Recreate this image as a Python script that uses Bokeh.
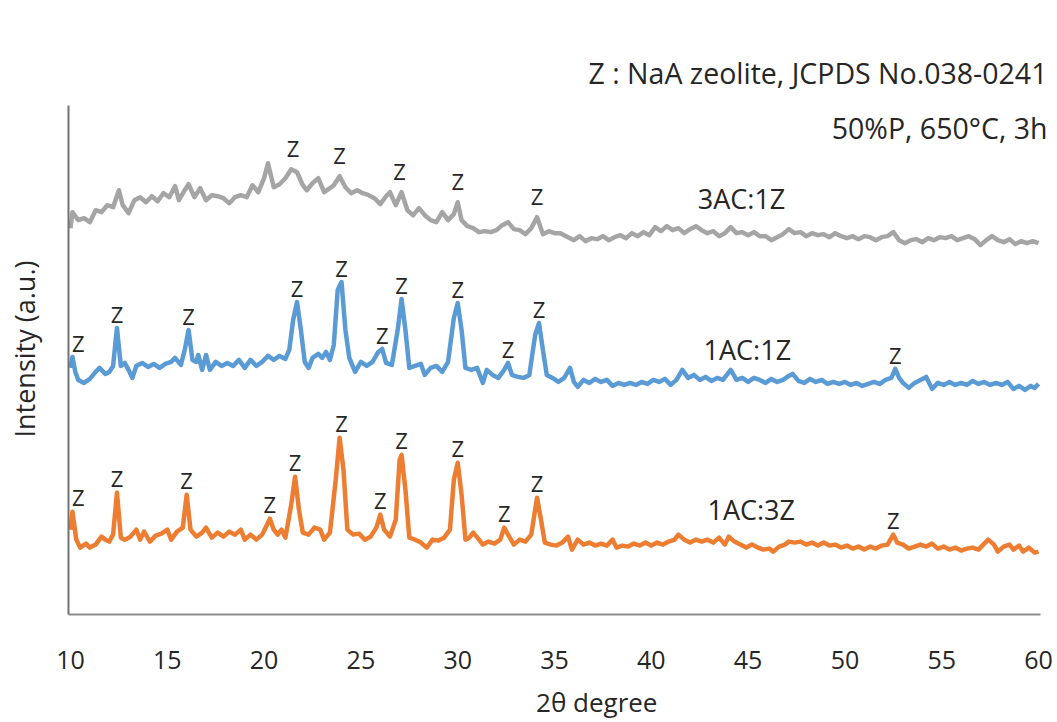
from bokeh.plotting import figure
from bokeh.models import ColumnDataSource, Range1d, FixedTicker, Label
from bokeh.core.properties import value
from bokeh.embed import file_html
from bokeh.resources import INLINE

# XRD patterns (2-theta in degrees, stacked intensity in a.u.)
tt_3ac1z = [10.0, 10.1, 10.4, 10.7, 11.0, 11.3, 11.6, 11.9, 12.2, 12.5, 12.7, 13.0, 13.3, 13.6, 13.9,
            14.2, 14.5, 14.8, 15.1, 15.4, 15.6, 15.9, 16.1, 16.4, 16.7, 17.0, 17.3, 17.6, 17.9, 18.2,
            18.5, 18.8, 19.1, 19.4, 19.7, 20.0, 20.2, 20.5, 20.8, 21.1, 21.4, 21.7, 22.0, 22.2, 22.5,
            22.8, 23.1, 23.4, 23.6, 23.9, 24.2, 24.5, 24.8, 25.1, 25.4, 25.7, 26.0, 26.3, 26.5, 26.8,
            27.1, 27.4, 27.7, 28.0, 28.3, 28.6, 28.9, 29.2, 29.5, 29.8, 30.0, 30.2, 30.5, 30.8, 31.1,
            31.4, 31.7, 32.0, 32.3, 32.6, 32.9, 33.2, 33.5, 33.8, 34.1, 34.4, 34.7, 35.0, 35.3, 35.6,
            36.0, 36.3, 36.6, 36.9, 37.2, 37.5, 37.8, 38.1, 38.4, 38.7, 39.0, 39.3, 39.6, 39.9, 40.2,
            40.5, 40.8, 41.1, 41.4, 41.7, 42.0, 42.3, 42.6, 42.9, 43.2, 43.5, 43.8, 44.1, 44.4, 44.7,
            45.0, 45.3, 45.6, 45.9, 46.2, 46.5, 46.8, 47.1, 47.4, 47.7, 48.0, 48.3, 48.6, 48.9, 49.2,
            49.5, 49.8, 50.1, 50.4, 50.7, 51.0, 51.3, 51.6, 51.9, 52.2, 52.5, 52.8, 53.1, 53.4, 53.7,
            54.0, 54.3, 54.6, 54.9, 55.2, 55.5, 55.8, 56.1, 56.4, 56.7, 57.0, 57.3, 57.6, 57.9, 58.2,
            58.5, 58.8, 59.1, 59.4, 59.7, 60.0]
int_3ac1z = [387, 403, 395, 397, 393, 405, 403, 410, 408, 425, 410, 402, 415, 418, 413,
             419, 414, 422, 418, 429, 415, 425, 431, 418, 427, 415, 420, 419, 417, 412,
             418, 420, 418, 430, 423, 437, 452, 428, 431, 437, 446, 443, 430, 425, 432,
             437, 423, 427, 430, 439, 428, 422, 425, 422, 420, 417, 411, 419, 423, 410,
             423, 405, 400, 407, 400, 395, 393, 403, 395, 401, 413, 395, 389, 387, 383,
             384, 383, 385, 390, 393, 386, 385, 381, 387, 398, 381, 384, 382, 382, 379,
             375, 379, 374, 377, 376, 379, 375, 378, 380, 377, 382, 379, 383, 380, 388,
             384, 389, 385, 387, 382, 386, 389, 385, 382, 384, 379, 382, 388, 382, 383,
             380, 383, 379, 379, 375, 378, 381, 386, 382, 383, 379, 382, 380, 381, 378,
             382, 379, 377, 379, 376, 379, 378, 375, 378, 379, 383, 375, 372, 375, 376,
             373, 377, 375, 378, 377, 379, 375, 377, 379, 376, 370, 375, 379, 375, 373,
             376, 371, 374, 372, 374, 372]

tt_1ac1z = [10.0, 10.1, 10.25, 10.4, 10.7, 11.0, 11.3, 11.5, 11.8, 12.0, 12.2, 12.4, 12.6, 12.8, 13.0,
            13.2, 13.4, 13.7, 14.0, 14.3, 14.6, 14.9, 15.2, 15.4, 15.7, 15.9, 16.1, 16.3, 16.5, 16.6,
            16.8, 17.0, 17.2, 17.5, 17.8, 18.1, 18.4, 18.7, 19.0, 19.3, 19.6, 19.9, 20.2, 20.5, 20.8,
            21.1, 21.3, 21.5, 21.7, 21.9, 22.1, 22.3, 22.5, 22.8, 23.0, 23.2, 23.4, 23.6, 23.8, 24.0,
            24.2, 24.4, 24.7, 25.0, 25.3, 25.6, 25.9, 26.1, 26.3, 26.6, 26.9, 27.1, 27.3, 27.5, 27.8,
            28.1, 28.3, 28.6, 28.9, 29.2, 29.5, 29.8, 30.0, 30.2, 30.4, 30.7, 31.0, 31.3, 31.5, 31.8,
            32.1, 32.4, 32.6, 32.8, 33.1, 33.4, 33.7, 34.0, 34.2, 34.4, 34.6, 34.9, 35.2, 35.5, 35.8,
            36.0, 36.2, 36.5, 36.8, 37.1, 37.4, 37.7, 38.0, 38.3, 38.6, 38.9, 39.2, 39.5, 39.8, 40.1,
            40.4, 40.7, 41.0, 41.3, 41.6, 41.9, 42.2, 42.5, 42.8, 43.1, 43.4, 43.7, 44.1, 44.4, 44.7,
            45.0, 45.3, 45.6, 45.9, 46.2, 46.5, 46.8, 47.1, 47.3, 47.6, 47.9, 48.2, 48.5, 48.8, 49.1,
            49.4, 49.7, 50.0, 50.3, 50.6, 50.9, 51.2, 51.5, 51.8, 52.1, 52.4, 52.6, 52.8, 53.0, 53.3,
            53.6, 53.9, 54.2, 54.5, 54.8, 55.1, 55.4, 55.7, 56.0, 56.3, 56.6, 56.9, 57.2, 57.5, 57.8,
            58.1, 58.4, 58.7, 59.0, 59.3, 59.6, 59.8, 60.0]
int_1ac1z = [247, 258, 243, 235, 232, 236, 243, 247, 241, 243, 249, 287, 249, 252, 245,
             237, 249, 252, 248, 251, 247, 251, 253, 257, 250, 265, 285, 255, 253, 260,
             245, 260, 245, 253, 249, 252, 249, 255, 247, 255, 249, 253, 259, 255, 259,
             256, 265, 295, 313, 285, 253, 247, 257, 261, 257, 263, 255, 270, 325, 333,
             285, 257, 243, 253, 249, 253, 263, 266, 252, 250, 285, 316, 285, 247, 249,
             251, 240, 247, 249, 243, 253, 297, 312, 285, 247, 245, 247, 232, 245, 240,
             237, 245, 252, 240, 238, 237, 240, 280, 292, 265, 240, 237, 233, 237, 247,
             233, 228, 235, 232, 236, 233, 235, 229, 232, 230, 232, 230, 233, 231, 235,
             233, 236, 230, 235, 245, 237, 240, 235, 238, 234, 237, 235, 245, 235, 237,
             233, 237, 235, 232, 236, 233, 235, 239, 241, 234, 232, 236, 233, 235, 231,
             233, 231, 233, 230, 232, 229, 231, 233, 231, 235, 237, 246, 237, 232, 227,
             232, 235, 238, 226, 232, 230, 233, 230, 232, 230, 234, 231, 233, 230, 232,
             230, 233, 226, 229, 225, 229, 227, 231]

tt_1ac3z = [10.0, 10.1, 10.3, 10.5, 10.8, 11.0, 11.3, 11.6, 11.8, 12.0, 12.2, 12.4, 12.6, 12.8, 13.1,
            13.4, 13.6, 13.8, 14.1, 14.4, 14.7, 15.0, 15.2, 15.5, 15.8, 16.0, 16.2, 16.5, 16.8, 17.0,
            17.3, 17.6, 17.9, 18.2, 18.5, 18.8, 19.0, 19.3, 19.6, 19.9, 20.1, 20.3, 20.5, 20.7, 20.9,
            21.1, 21.4, 21.6, 21.8, 22.0, 22.3, 22.6, 22.9, 23.1, 23.4, 23.7, 23.9, 24.1, 24.3, 24.6,
            24.9, 25.2, 25.5, 25.8, 26.0, 26.2, 26.5, 26.8, 27.0, 27.1, 27.3, 27.5, 27.8, 28.1, 28.4,
            28.7, 29.0, 29.3, 29.6, 29.8, 30.0, 30.2, 30.4, 30.6, 30.8, 31.1, 31.3, 31.6, 31.9, 32.2,
            32.4, 32.6, 32.9, 33.2, 33.5, 33.8, 34.0, 34.1, 34.3, 34.5, 34.8, 35.1, 35.4, 35.7, 35.9,
            36.2, 36.5, 36.8, 37.1, 37.4, 37.7, 38.0, 38.2, 38.5, 38.8, 39.1, 39.4, 39.7, 40.0, 40.3,
            40.6, 40.9, 41.2, 41.4, 41.7, 42.0, 42.3, 42.6, 42.9, 43.2, 43.5, 43.8, 44.0, 44.3, 44.6,
            44.9, 45.2, 45.5, 45.8, 46.1, 46.3, 46.6, 46.9, 47.1, 47.4, 47.7, 48.0, 48.3, 48.6, 48.9,
            49.2, 49.5, 49.8, 50.1, 50.4, 50.7, 51.0, 51.3, 51.6, 51.9, 52.2, 52.5, 52.7, 53.0, 53.3,
            53.6, 53.9, 54.2, 54.5, 54.8, 55.1, 55.4, 55.7, 56.0, 56.3, 56.6, 56.9, 57.1, 57.4, 57.7,
            57.9, 58.2, 58.5, 58.7, 59.0, 59.2, 59.5, 59.8, 60.0]
int_1ac3z = [85, 103, 75, 67, 71, 67, 70, 78, 75, 73, 80, 122, 77, 75, 78,
             85, 75, 83, 73, 79, 81, 85, 75, 83, 87, 120, 85, 78, 82, 87,
             77, 82, 78, 83, 80, 85, 75, 80, 75, 80, 88, 96, 85, 80, 85,
             77, 110, 138, 105, 82, 80, 87, 85, 75, 82, 135, 177, 145, 85, 80,
             81, 75, 78, 87, 100, 85, 78, 95, 155, 160, 125, 77, 75, 72, 67,
             75, 74, 77, 85, 135, 152, 120, 75, 77, 82, 75, 70, 73, 71, 75,
             87, 80, 70, 75, 73, 80, 105, 117, 95, 72, 70, 69, 72, 78, 65,
             75, 70, 72, 69, 71, 69, 75, 67, 69, 68, 71, 69, 72, 69, 72,
             70, 73, 75, 80, 75, 72, 75, 73, 75, 72, 77, 70, 78, 73, 70,
             67, 70, 67, 65, 66, 63, 68, 70, 73, 72, 73, 70, 72, 69, 72,
             69, 70, 67, 69, 66, 68, 65, 68, 66, 69, 70, 80, 72, 70, 66,
             68, 70, 68, 71, 66, 68, 65, 67, 64, 66, 67, 65, 69, 75, 70,
             63, 68, 70, 65, 69, 63, 67, 62, 63]

# reflections marked as NaA zeolite on each pattern
z_3ac1z = [21.5, 23.9, 27.0, 30.0, 34.1]
z_1ac1z = [10.4, 12.4, 16.1, 21.7, 24.0, 26.1, 27.1, 30.0, 32.6, 34.2, 52.6]
z_1ac3z = [10.4, 12.4, 16.0, 20.3, 21.6, 24.0, 26.0, 27.1, 30.0, 32.4, 34.1, 52.5]

series_names = ["3AC:1Z", "1AC:1Z", "1AC:3Z"]
x_ticks = [10, 15, 20, 25, 30, 35, 40, 45, 50, 55, 60]

GRAY, BLUE, ORANGE = "#A5A5A5", "#5B9BD5", "#ED7D31"
TEXT = "#262626"
BODY_FONT = "Open Sans"
PAD = "\u00a0"  # non-breaking space used to nudge the centred axis titles

# the frame reaches the top and right edges so the notes are not clipped;
# axis bounds keep the drawn axis lines to the data box
p = figure(width=1057, height=722, output_backend="svg", toolbar_location=None,
           x_range=Range1d(9.897, 60.98), y_range=Range1d(0, 595),
           min_border_left=68, min_border_right=0, min_border_top=20, min_border_bottom=107)
p.outline_line_color = None
p.xgrid.visible = False
p.ygrid.visible = False
p.background_fill_color = "white"
p.border_fill_color = "white"

# axes
p.xaxis.bounds = (9.897, 60.103)
p.xaxis.ticker = FixedTicker(ticks=x_ticks)
p.xaxis.axis_label = PAD * 10 + "2θ degree"
p.xaxis.axis_label_text_font = BODY_FONT
p.xaxis.axis_label_text_font_style = "normal"
p.xaxis.axis_label_text_font_size = "26px"
p.xaxis.axis_label_text_color = TEXT
p.xaxis.axis_label_standoff = 12
p.xaxis.major_label_text_font = BODY_FONT
p.xaxis.major_label_text_font_size = "25px"
p.xaxis.major_label_text_color = TEXT
p.xaxis.major_label_standoff = 30
p.xaxis.major_tick_line_color = None
p.xaxis.minor_tick_line_color = None
p.xaxis.axis_line_color = "#8C8C8C"
p.xaxis.axis_line_width = 2

p.yaxis.bounds = (0, 510)
p.yaxis.ticker = FixedTicker(ticks=[])
p.yaxis.axis_label = "Intensity (a.u.)" + PAD * 9
p.yaxis.axis_label_text_font = BODY_FONT
p.yaxis.axis_label_text_font_style = "normal"
p.yaxis.axis_label_text_font_size = "27px"
p.yaxis.axis_label_text_color = TEXT
p.yaxis.axis_label_standoff = 26
p.yaxis.major_tick_line_color = None
p.yaxis.minor_tick_line_color = None
p.yaxis.axis_line_color = "#737373"
p.yaxis.axis_line_width = 2


def add_pattern(tt, inten, color, z_pos, z_gap):
    src = ColumnDataSource(dict(x=tt, y=inten))
    p.line("x", "y", source=src, line_color=color, line_width=4.5, line_join="round")
    zy = []
    for z in z_pos:
        near = [v for t, v in zip(tt, inten) if abs(t - z) <= 0.45]
        zy.append(max(near))
    zsrc = ColumnDataSource(dict(x=z_pos, y=zy, t=["Z"] * len(z_pos)))
    p.text("x", "y", text="t", source=zsrc, text_font=value(BODY_FONT), text_font_size="22px",
           text_color=TEXT, text_align="center", text_baseline="middle", y_offset=-z_gap)


add_pattern(tt_3ac1z, int_3ac1z, GRAY, z_3ac1z, 21)
add_pattern(tt_1ac1z, int_1ac1z, BLUE, z_1ac1z, 14)
add_pattern(tt_1ac3z, int_1ac3z, ORANGE, z_1ac3z, 15)

# pattern names
for name, xx, yy in zip(series_names, [42.4, 42.7, 42.9], [417, 265, 105]):
    p.add_layout(Label(x=xx, y=yy, text=name, text_font=BODY_FONT, text_font_size="27px",
                       text_color=TEXT, text_align="left", text_baseline="middle"))

# reference and synthesis notes
p.add_layout(Label(x=60.46, y=542, text="Z : NaA zeolite, JCPDS No.038-0241", text_font=BODY_FONT,
                   text_font_size="28.5px", text_color=TEXT, text_align="right", text_baseline="middle"))
p.add_layout(Label(x=60.46, y=487, text="50%P, 650°C, 3h", text_font=BODY_FONT,
                   text_font_size="28.5px", text_color=TEXT, text_align="right", text_baseline="middle"))

open("out.html", "w").write(file_html(p, INLINE))
